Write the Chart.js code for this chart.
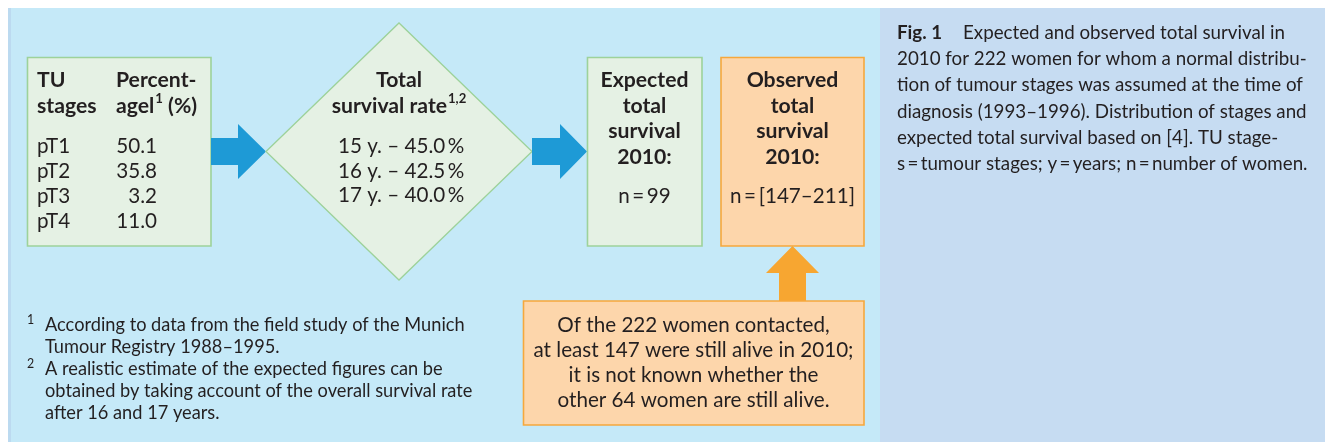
<!DOCTYPE html>
<html><head><meta charset="utf-8">
<script src="https://cdn.jsdelivr.net/npm/chart.js@4"></script>
<style>html,body{margin:0;padding:0;background:#fff;overflow:hidden}canvas{display:block}</style>
</head><body>
<canvas id="c" width="1325" height="442"></canvas>
<script>
// ---- data ----
const stageLabels = ['pT1', 'pT2', 'pT3', 'pT4'];
const stagePercent = [50.1, 35.8, 3.2, 11.0];
const survivalYears = [15, 16, 17];
const survivalRates = [45.0, 42.5, 40.0];
const expectedWomen = [99];
const observedRange = [147, 211];
const contactedWomen = [222];
const aliveWomen = [147];
const unknownWomen = [64];
const footnoteLines = [
  ['1', 'According to data from the field study of the Munich'],
  ['', 'Tumour Registry 1988–1995.'],
  ['2', 'A realistic estimate of the expected figures can be'],
  ['', 'obtained by taking account of the overall survival rate'],
  ['', 'after 16 and 17 years.']
];
const captionTitle = 'Fig. 1';
const captionLines = [
  'Expected and observed total survival in',
  '2010 for 222 women for whom a normal distribu-',
  'tion of tumour stages was assumed at the time of',
  'diagnosis (1993–1996). Distribution of stages and',
  'expected total survival based on [4]. TU stage-',
  's\u2009=\u2009tumour stages; y\u2009=\u2009years; n\u2009=\u2009number of women.'
];

// ---- style ----
const FAMILY = 'Lato, "Noto Sans", sans-serif';
const INK = '#231f20';
const C = {
  panel: '#c5e9f8', panelEdge: '#bcdaf0', caption: '#c6dcf2',
  green: '#e5f1e4', greenLine: '#9dd29a',
  orange: '#fdd6ab', orangeLine: '#f6a83c', orangeArrow: '#f7a631',
  blue: '#1e9ad6'
};

const diagram = {
  id: 'diagram',
  beforeDraw(chart) {
    const ctx = chart.ctx;
    const xs = chart.scales.x, ys = chart.scales.y;
    const X = v => xs.getPixelForValue(v), Y = v => ys.getPixelForValue(v);
    const fit = (s, w, weight) => { ctx.font = `${weight} 100px ${FAMILY}`; return 100 * w / ctx.measureText(s).width; };
    const setF = (size, weight) => { ctx.font = `${weight} ${size.toFixed(2)}px ${FAMILY}`; };
    const poly = (pts, fill, stroke, lw) => {
      ctx.beginPath();
      pts.forEach((p, i) => i ? ctx.lineTo(X(p[0]), Y(p[1])) : ctx.moveTo(X(p[0]), Y(p[1])));
      ctx.closePath();
      ctx.fillStyle = fill; ctx.fill();
      if (stroke) { ctx.strokeStyle = stroke; ctx.lineWidth = lw; ctx.stroke(); }
    };
    const rect = (x0, y0, x1, y1, fill, stroke) => poly([[x0, y0], [x1, y0], [x1, y1], [x0, y1]], fill, stroke, 1.6);
    const text = (s, x, y, align) => { ctx.textAlign = align || 'left'; ctx.fillText(s, X(x), Y(y)); };

    const fBold = fit('Expected', 88, 'bold');
    const fReg = fit('n\u2009=\u2009[147–211]', 125, 'normal');
    const fBox = fit('at least 147 were still alive in 2010;', 320, 'normal');
    const fFoot = fit('According to data from the field study of the Munich', 420, 'normal');
    const fCap = fit('2010 for 222 women for whom a normal distribu-', 410, 'normal');

    ctx.save();
    ctx.fillStyle = '#ffffff'; ctx.fillRect(0, 0, chart.width, chart.height);
    rect(8, 8, 880, 442, C.panel);
    rect(8, 8, 11, 442, C.panelEdge);
    rect(880, 8, 1325, 442, C.caption);

    // shapes
    rect(27.5, 57.5, 211, 246, C.green, C.greenLine);
    poly([[211, 138], [238, 138], [238, 124], [266, 151.5], [238, 179], [238, 165], [211, 165]], C.blue);
    poly([[266, 151.5], [399, 23], [532, 151.5], [399, 280]], C.green, C.greenLine, 1.3);
    poly([[532, 138], [560, 138], [560, 124], [587, 151.5], [560, 179], [560, 165], [532, 165]], C.blue);
    rect(587.5, 57.5, 702, 246, C.green, C.greenLine);
    rect(721, 57.5, 864, 246, C.orange, C.orangeLine);
    poly([[779, 301], [779, 273], [766, 273], [792.5, 246], [819, 273], [806, 273], [806, 301]], C.orangeArrow);
    rect(523.5, 301, 864, 425, C.orange, C.orangeLine);

    ctx.fillStyle = INK;
    ctx.textBaseline = 'alphabetic';
    // box 1
    setF(fBold, 'bold');
    text('TU', 37, 87); text('stages', 37, 113);
    text('Percent-', 116, 87);
    const agel = 'agel';
    text(agel, 116, 113);
    let w = ctx.measureText(agel).width;
    setF(fBold * 0.62, 'bold'); text('1', 116 + w + 1, 103);
    let w1 = ctx.measureText('1').width;
    setF(fBold, 'bold'); text(' (%)', 116 + w + w1 + 1, 113);
    setF(fReg, 'normal');
    stageLabels.forEach((s, i) => {
      const b = 153 + i * 25;
      text(s, 37, b);
      text(stagePercent[i].toFixed(1), 157, b, 'right');
    });

    // diamond
    setF(fBold, 'bold');
    text('Total', 399, 87, 'center');
    const sr = 'survival rate';
    const wsr = ctx.measureText(sr).width;
    setF(fBold * 0.62, 'bold'); const wsup = ctx.measureText('1,2').width;
    const sx0 = 399 - (wsr + wsup + 1) / 2;
    setF(fBold, 'bold'); text(sr, sx0, 113);
    setF(fBold * 0.62, 'bold'); text('1,2', sx0 + wsr + 1, 103);
    setF(fReg, 'normal');
    survivalYears.forEach((yv, i) => {
      text(`${yv} y. – ${survivalRates[i].toFixed(1)}\u2009%`, 338, 153 + i * 24.5);
    });

    // expected / observed
    const heads = [['Expected', 'total', 'survival', '2010:'], ['Observed', 'total', 'survival', '2010:']];
    const cx = [644.5, 792.5];
    const nText = [`n\u2009=\u2009${expectedWomen[0]}`, `n\u2009=\u2009[${observedRange[0]}–${observedRange[1]}]`];
    heads.forEach((lines, k) => {
      setF(fBold, 'bold');
      lines.forEach((s, i) => text(s, cx[k], 87 + i * 25.5, 'center'));
      setF(fReg, 'normal');
      text(nText[k], cx[k], 203, 'center');
    });

    // bottom box
    setF(fBox, 'normal');
    const boxLines = [
      `Of the ${contactedWomen[0]} women contacted,`,
      `at least ${aliveWomen[0]} were still alive in 2010;`,
      'it is not known whether the',
      `other ${unknownWomen[0]} women are still alive.`
    ];
    boxLines.forEach((s, i) => text(s, 693.5, 332 + i * 25, 'center'));

    // footnotes
    footnoteLines.forEach((l, i) => {
      const b = 331 + i * 22;
      setF(fFoot, 'normal'); text(l[1], 45, b);
      if (l[0]) { setF(fFoot * 0.68, 'normal'); text(l[0], 27, b - 7); }
    });

    // caption
    setF(fCap, 'bold'); text(captionTitle, 897, 39);
    setF(fCap, 'normal');
    captionLines.forEach((s, i) => text(s, i ? 897 : 963, 39 + i * 26.2));
    ctx.restore();
  }
};

new Chart(document.getElementById('c'), {
  type: 'scatter',
  data: { datasets: [{ data: [] }] },
  options: {
    responsive: false, animation: false, events: [],
    layout: { padding: 0 },
    plugins: { legend: { display: false }, tooltip: { enabled: false } },
    scales: {
      x: { type: 'linear', min: 0, max: 1325, display: false },
      y: { type: 'linear', min: 0, max: 442, reverse: true, display: false }
    }
  },
  plugins: [diagram]
});
</script>
</body></html>
